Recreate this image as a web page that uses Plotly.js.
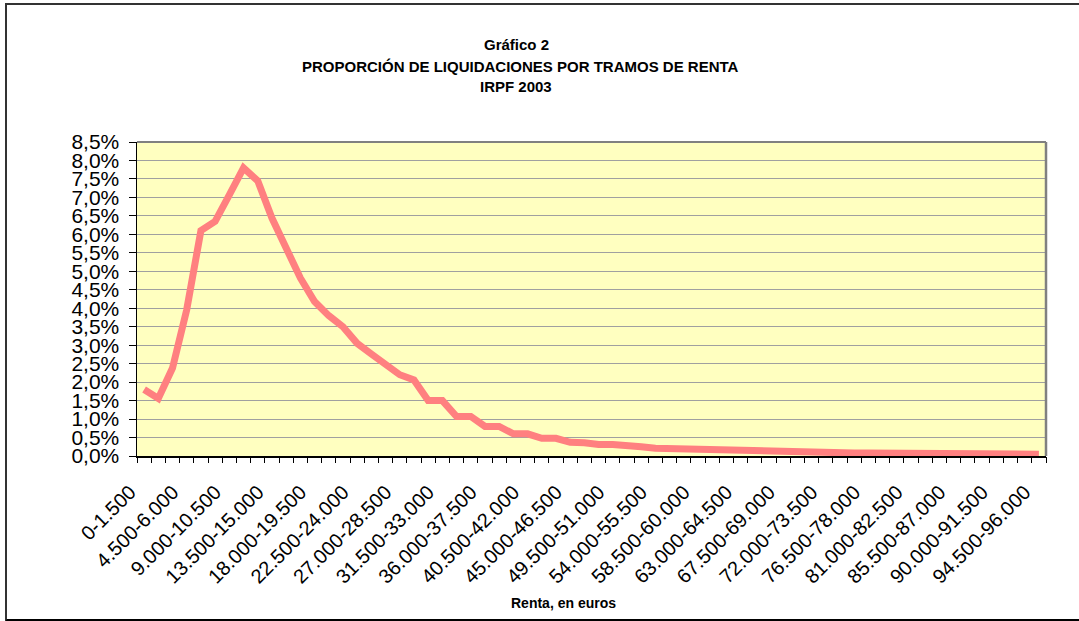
<!DOCTYPE html>
<html>
<head>
<meta charset="utf-8">
<script src="https://cdn.plot.ly/plotly-3.0.1.min.js"></script>
<style>
html,body{margin:0;padding:0;background:#fff;}
#wrap{position:relative;width:1079px;height:621px;overflow:hidden;}
#chart{position:absolute;left:0;top:0;width:1079px;height:621px;}
#frame{position:absolute;left:5px;top:3px;width:1090px;height:614px;border-top:2px solid #333;border-left:2px solid #333;border-bottom:3px solid #000;pointer-events:none;}
</style>
</head>
<body>
<div id="wrap"><div id="chart"></div><div id="frame"></div></div>
<script>
// Income brackets (euros)
const categories = [
  "0-1.500","1.500-3.000","3.000-4.500","4.500-6.000","6.000-7.500","7.500-9.000",
  "9.000-10.500","10.500-12.000","12.000-13.500","13.500-15.000","15.000-16.500","16.500-18.000",
  "18.000-19.500","19.500-21.000","21.000-22.500","22.500-24.000","24.000-25.500","25.500-27.000",
  "27.000-28.500","28.500-30.000","30.000-31.500","31.500-33.000","33.000-34.500","34.500-36.000",
  "36.000-37.500","37.500-39.000","39.000-40.500","40.500-42.000","42.000-43.500","43.500-45.000",
  "45.000-46.500","46.500-48.000","48.000-49.500","49.500-51.000","51.000-52.500","52.500-54.000",
  "54.000-55.500","55.500-57.000","57.000-58.500","58.500-60.000","60.000-61.500","61.500-63.000",
  "63.000-64.500","64.500-66.000","66.000-67.500","67.500-69.000","69.000-70.500","70.500-72.000",
  "72.000-73.500","73.500-75.000","75.000-76.500","76.500-78.000","78.000-79.500","79.500-81.000",
  "81.000-82.500","82.500-84.000","84.000-85.500","85.500-87.000","87.000-88.500","88.500-90.000",
  "90.000-91.500","91.500-93.000","93.000-94.500","94.500-96.000"
];

// Share of returns per bracket (%)
const proporcion = [
  1.80, 1.56, 2.38, 3.96, 6.10, 6.35, 7.07, 7.80, 7.45, 6.44, 5.63, 4.82,
  4.18, 3.80, 3.50, 3.05, 2.76, 2.48, 2.20, 2.06, 1.50, 1.50, 1.07, 1.07,
  0.80, 0.80, 0.60, 0.60, 0.48, 0.48, 0.37, 0.36, 0.31, 0.31, 0.26, 0.25,
  0.21, 0.20, 0.17, 0.17, 0.14, 0.14, 0.14, 0.12, 0.10, 0.10, 0.10, 0.10,
  0.09, 0.09, 0.08, 0.08, 0.08, 0.07, 0.07, 0.07, 0.06, 0.06, 0.06, 0.06,
  0.05, 0.05, 0.05, 0.05
];

// Labelled ticks: every third bracket
const tickLabels = [
  "0-1.500","4.500-6.000","9.000-10.500","13.500-15.000","18.000-19.500","22.500-24.000",
  "27.000-28.500","31.500-33.000","36.000-37.500","40.500-42.000","45.000-46.500","49.500-51.000",
  "54.000-55.500","58.500-60.000","63.000-64.500","67.500-69.000","72.000-73.500","76.500-78.000",
  "81.000-82.500","85.500-87.000","90.000-91.500","94.500-96.000"
];

const titleLines = ["Gráfico 2", "PROPORCIÓN DE LIQUIDACIONES POR TRAMOS DE RENTA", "IRPF 2003"];
const xTitle = "Renta, en euros";

const FONT = "'Liberation Sans', Arial, sans-serif";
const L = 137, R = 1046, T = 142, B = 456, W = 1079, H = 621;
const pw = R - L, ph = B - T;
const px = v => (v - L) / pw;
const py = v => (B - v) / ph;

const trace = {
  type: "scatter", mode: "lines",
  x: categories, y: proporcion,
  line: {color: "#FF8080", width: 7},
  hoverinfo: "x+y", showlegend: false
};

const layout = {
  width: W, height: H,
  margin: {l: L, r: W - R, t: T, b: H - B, pad: 0},
  paper_bgcolor: "rgba(0,0,0,0)",
  plot_bgcolor: "#FFFFC0",
  separators: ",.",
  showlegend: false,
  font: {family: FONT, color: "#000"},
  xaxis: {
    type: "category", range: [-0.5, categories.length - 0.5],
    tickmode: "array", tickvals: tickLabels, ticktext: tickLabels,
    tickangle: -45, ticks: "", showgrid: false, zeroline: false,
    showline: true, linecolor: "#000", linewidth: 1.5,
    ticklabelstandoff: 15, ticklabelshift: -14,
    tickfont: {family: FONT, size: 20, color: "#000"},
    fixedrange: true
  },
  xaxis2: {
    overlaying: "x", anchor: "y", side: "bottom", type: "linear",
    range: [-0.5, categories.length - 0.5], tick0: -0.5, dtick: 1,
    ticks: "outside", ticklen: 6, tickwidth: 1, tickcolor: "#000",
    showticklabels: false, showgrid: false, zeroline: false, showline: false
  },
  yaxis: {
    range: [0, 8.5], dtick: 0.5, tick0: 0, tickformat: ".1f", ticksuffix: "%",
    ticks: "outside", ticklen: 7, tickcolor: "#000",
    ticklabelstandoff: 5,
    showgrid: true, gridcolor: "#A0A0A0", gridwidth: 1,
    zeroline: false, showline: true, linecolor: "#000", linewidth: 1.5,
    tickfont: {family: FONT, size: 21, color: "#000"},
    fixedrange: true
  },
  shapes: [
    {type: "line", xref: "paper", yref: "paper", x0: 0, x1: 1, y0: 1, y1: 1, line: {color: "#808080", width: 2}},
    {type: "line", xref: "paper", yref: "paper", x0: 1, x1: 1, y0: 0, y1: 1, line: {color: "#808080", width: 2.5}}
  ],
  annotations: [
    {text: "<b>" + titleLines[0] + "</b>", xref: "paper", yref: "paper", x: px(516), y: py(44), xanchor: "center", yanchor: "middle", showarrow: false, font: {family: FONT, size: 15, color: "#000"}},
    {text: "<b>" + titleLines[1] + "</b>", xref: "paper", yref: "paper", x: px(520), y: py(66), xanchor: "center", yanchor: "middle", showarrow: false, font: {family: FONT, size: 15, color: "#000"}},
    {text: "<b>" + titleLines[2] + "</b>", xref: "paper", yref: "paper", x: px(516), y: py(87), xanchor: "center", yanchor: "middle", showarrow: false, font: {family: FONT, size: 15, color: "#000"}},
    {text: "<b>" + xTitle + "</b>", xref: "paper", yref: "paper", x: px(563), y: py(603), xanchor: "center", yanchor: "middle", showarrow: false, font: {family: FONT, size: 14, color: "#000"}}
  ]
};

const trace2 = {type: "scatter", x: [0], y: [0], xaxis: "x2", mode: "none", hoverinfo: "skip", showlegend: false};

Plotly.newPlot("chart", [trace, trace2], layout, {displayModeBar: false, staticPlot: true});
</script>
</body>
</html>
